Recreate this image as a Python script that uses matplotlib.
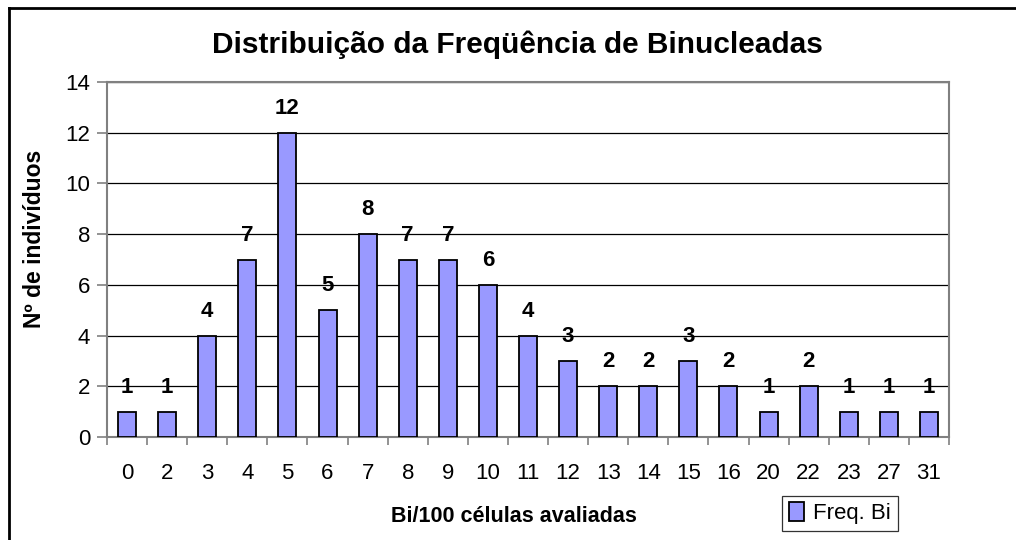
import numpy as np
import matplotlib.pyplot as plt
from matplotlib.lines import Line2D

plt.rcParams['font.family'] = ['Liberation Sans', 'DejaVu Sans']

# Bi/100 cells categories and frequency of individuals
categories = ['0', '2', '3', '4', '5', '6', '7', '8', '9', '10', '11', '12',
              '13', '14', '15', '16', '20', '22', '23', '27', '31']
freq_bi = [1, 1, 4, 7, 12, 5, 8, 7, 7, 6, 4, 3, 2, 2, 3, 2, 1, 2, 1, 1, 1]

W, H = 1016, 540
fig = plt.figure(figsize=(W / 100, H / 100), dpi=100, facecolor='white')
ax = fig.add_axes([107 / W, 1 - 437 / H, 842 / W, 355 / H])

x = np.arange(len(categories))
ax.bar(x, freq_bi, width=0.45, color='#9999FF', edgecolor='black',
       linewidth=1.3, label='Freq. Bi', zorder=3)

for xi, v in zip(x, freq_bi):
    ax.text(xi, v + 0.55, str(v), ha='center', va='bottom', fontsize=16,
            fontweight='bold')

ax.set_xlim(-0.5, len(categories) - 0.5)
ax.set_ylim(0, 14)
ax.set_yticks(range(0, 15, 2))
ax.yaxis.grid(True, color='black', linewidth=0.9, zorder=0)
ax.set_axisbelow(True)

# category labels centred, tick marks between categories
ax.set_xticks(x)
ax.set_xticklabels(categories, fontsize=16)
ax.tick_params(axis='x', length=0, pad=19)
ax.set_xticks(np.arange(-0.5, len(categories)), minor=True)
ax.tick_params(axis='x', which='minor', length=6, color='#808080', width=1.2)
ax.tick_params(axis='y', labelsize=16, length=7, color='#808080', width=1.2,
               pad=5)

for s in ['top', 'right', 'left', 'bottom']:
    ax.spines[s].set_color('#808080')
    ax.spines[s].set_linewidth(1.5)

ax.set_xlabel('Bi/100 células avaliadas', fontsize=15.5, fontweight='bold')
ax.xaxis.label.set_va('center')
ax.xaxis.set_label_coords((514 - 107) / 842, (437 - 516) / 355)
ax.set_ylabel('Nº de indivíduos', fontsize=16.5, fontweight='bold')
ax.yaxis.label.set_va('center')
ax.yaxis.set_label_coords((35 - 107) / 842, (437 - 239) / 355)

fig.text(517 / W, 1 - 45 / H, 'Distribuição da Freqüência de Binucleadas',
         ha='center', va='center', fontsize=21.5, fontweight='bold')

leg = fig.legend(loc='lower left', bbox_to_anchor=(782 / W, 1 - 531 / H),
                 fontsize=16, frameon=True, fancybox=False, edgecolor='black',
                 handlelength=0.7, handleheight=0.9, handletextpad=0.4,
                 borderpad=0.3, borderaxespad=0)
leg.get_frame().set_linewidth(0.9)

# chart area border (only top and left visible in the crop)
fig.add_artist(Line2D([9 / W, 1], [1 - 8 / H, 1 - 8 / H],
                      transform=fig.transFigure, color='black', lw=2))
fig.add_artist(Line2D([9 / W, 9 / W], [0, 1 - 8 / H],
                      transform=fig.transFigure, color='black', lw=2))

fig.savefig('out.png', dpi=100, facecolor='white')
